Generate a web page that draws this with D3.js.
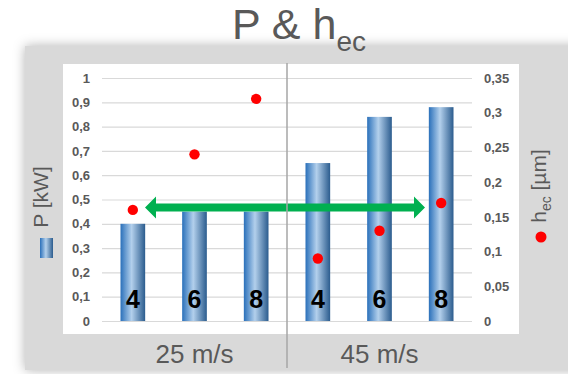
<!DOCTYPE html>
<html>
<head>
<meta charset="utf-8">
<script src="https://d3js.org/d3.v7.min.js"></script>
<style>
  body { margin: 0; background: #fff; }
  svg { display: block; font-family: "Liberation Sans", Arial, sans-serif; }
</style>
</head>
<body>
<div id="chart"></div>
<script>
// data
var speeds = ["25 m/s", "45 m/s"];
var sizes = ["4", "6", "8"];
var power = [0.40, 0.45, 0.45, 0.65, 0.84, 0.88];   // P [kW], bars
var hec = [0.16, 0.24, 0.32, 0.09, 0.13, 0.17];     // h_ec [µm], dots
var leftTicks = [0, 0.1, 0.2, 0.3, 0.4, 0.5, 0.6, 0.7, 0.8, 0.9, 1];
var rightTicks = [0, 0.05, 0.1, 0.15, 0.2, 0.25, 0.3, 0.35];

var W = 568, H = 374;
var fmt = d3.formatLocale({ decimal: ",", thousands: ".", grouping: [3], currency: ["", ""] }).format("~g");

var keys = [];
speeds.forEach(function (s, g) {
    sizes.forEach(function (z, i) { keys.push({ speed: s, size: z, idx: g * sizes.length + i }); });
});

var svg = d3.select("#chart").append("svg").attr("width", W).attr("height", H);
var defs = svg.append("defs");

var shadow = defs.append("filter").attr("id", "shadow")
    .attr("x", "-10%").attr("y", "-20%").attr("width", "120%").attr("height", "140%");
shadow.append("feDropShadow").attr("dx", 0).attr("dy", 0).attr("stdDeviation", 6)
    .attr("flood-color", "#000").attr("flood-opacity", 0.3);

var grad = defs.append("linearGradient").attr("id", "barGrad")
    .attr("x1", "0%").attr("x2", "100%").attr("y1", "0%").attr("y2", "0%");
grad.append("stop").attr("offset", "0%").attr("stop-color", "#2a70ba");
grad.append("stop").attr("offset", "45%").attr("stop-color", "#b3d0ec");
grad.append("stop").attr("offset", "100%").attr("stop-color", "#2b5c8e");

// grey panel + white plot area
svg.append("rect").attr("x", 25).attr("y", 46).attr("width", 560).attr("height", 324)
    .attr("fill", "#d9d9d9").attr("filter", "url(#shadow)");
svg.append("rect").attr("x", 63).attr("y", 64).attr("width", 456).attr("height", 270).attr("fill", "#fff");

// title (drawn over the panel, subscript dips into it)
var title = svg.append("text").attr("x", 232).attr("y", 39)
    .attr("fill", "#595959").style("font-size", "43px");
title.append("tspan").text("P & h");
title.append("tspan").attr("dy", 12).style("font-size", "28px").text("ec");

var x = d3.scaleBand().domain(keys.map(function (k) { return k.idx; }))
    .range([102, 472]).paddingInner(0.6).paddingOuter(0.3);
var yL = d3.scaleLinear().domain([0, 1]).range([321, 78]);
var yR = d3.scaleLinear().domain([0, 0.35]).range([321, 78]);

// left axis with gridlines
var gL = svg.append("g").attr("transform", "translate(102,0)")
    .call(d3.axisLeft(yL).tickValues(leftTicks).tickFormat(fmt).tickSize(-370).tickPadding(12));
gL.select(".domain").remove();
gL.selectAll(".tick line").attr("stroke", "#d9d9d9").attr("stroke-width", 1.2);
gL.selectAll(".tick text").attr("fill", "#595959")
    .style("font-size", "13px").style("font-weight", "bold").style("font-family", "Liberation Sans, Arial, sans-serif");

// right axis
var gR = svg.append("g").attr("transform", "translate(472,0)")
    .call(d3.axisRight(yR).tickValues(rightTicks).tickFormat(fmt).tickSize(0).tickPadding(12));
gR.select(".domain").remove();
gR.selectAll(".tick text").attr("fill", "#595959")
    .style("font-size", "13px").style("font-weight", "bold").style("font-family", "Liberation Sans, Arial, sans-serif");

// bars
svg.append("g").selectAll("rect").data(keys).enter().append("rect")
    .attr("x", function (d) { return x(d.idx); })
    .attr("width", x.bandwidth())
    .attr("y", function (d) { return yL(power[d.idx]); })
    .attr("height", function (d) { return yL(0) - yL(power[d.idx]); })
    .attr("fill", "url(#barGrad)");

// size labels on bars
svg.append("g").selectAll("text").data(keys).enter().append("text")
    .attr("x", function (d) { return x(d.idx) + x.bandwidth() / 2; })
    .attr("y", 308)
    .attr("text-anchor", "middle")
    .style("font-size", "25px").style("font-weight", "bold").attr("fill", "#000")
    .text(function (d) { return d.size; });

// h_ec dots
svg.append("g").selectAll("circle").data(keys).enter().append("circle")
    .attr("cx", function (d) { return x(d.idx) + x.bandwidth() / 2; })
    .attr("cy", function (d) { return yR(hec[d.idx]); })
    .attr("r", 5.2)
    .attr("fill", "#ff0000");

// green double arrow
var ay = 207.5;
var ax0 = 145, ax1 = 425;
svg.append("path")
    .attr("d", "M" + ax0 + "," + ay + "L" + (ax0 + 11) + "," + (ay - 11) + "V" + (ay - 4) +
        "H" + (ax1 - 11) + "V" + (ay - 11) + "L" + ax1 + "," + ay + "L" + (ax1 - 11) + "," + (ay + 11) +
        "V" + (ay + 4) + "H" + (ax0 + 11) + "V" + (ay + 11) + "Z")
    .attr("fill", "#00b050");

// group divider
var step = x.step();
var divX = x(sizes.length) - step * x.paddingInner() / 2;
svg.append("line").attr("x1", divX).attr("x2", divX).attr("y1", 63).attr("y2", 368)
    .attr("stroke", "#a6a6a6").attr("stroke-width", 1.5);

// category labels
svg.append("g").selectAll("text").data(speeds).enter().append("text")
    .attr("x", function (d, g) {
        var a = x(g * sizes.length), b = x(g * sizes.length + sizes.length - 1) + x.bandwidth();
        return (a + b) / 2;
    })
    .attr("y", 363)
    .attr("text-anchor", "middle")
    .attr("fill", "#595959").style("font-size", "26px")
    .text(function (d) { return d; });

// left axis title + legend swatch
svg.append("text").attr("transform", "translate(48,197) rotate(-90)")
    .attr("text-anchor", "middle").attr("fill", "#595959").style("font-size", "21px")
    .text("P [kW]");
svg.append("rect").attr("x", 40).attr("y", 238).attr("width", 13).attr("height", 20)
    .attr("fill", "url(#barGrad)");

// right axis title + legend dot
var rt = svg.append("text").attr("transform", "translate(546,186) rotate(-90)")
    .attr("text-anchor", "middle").attr("fill", "#595959").style("font-size", "21px");
rt.append("tspan").text("h");
rt.append("tspan").attr("dy", 5).style("font-size", "14px").text("ec");
rt.append("tspan").attr("dy", -5).text(" [µm]");
svg.append("circle").attr("cx", 541).attr("cy", 237).attr("r", 5.5).attr("fill", "#ff0000");
</script>
</body>
</html>
